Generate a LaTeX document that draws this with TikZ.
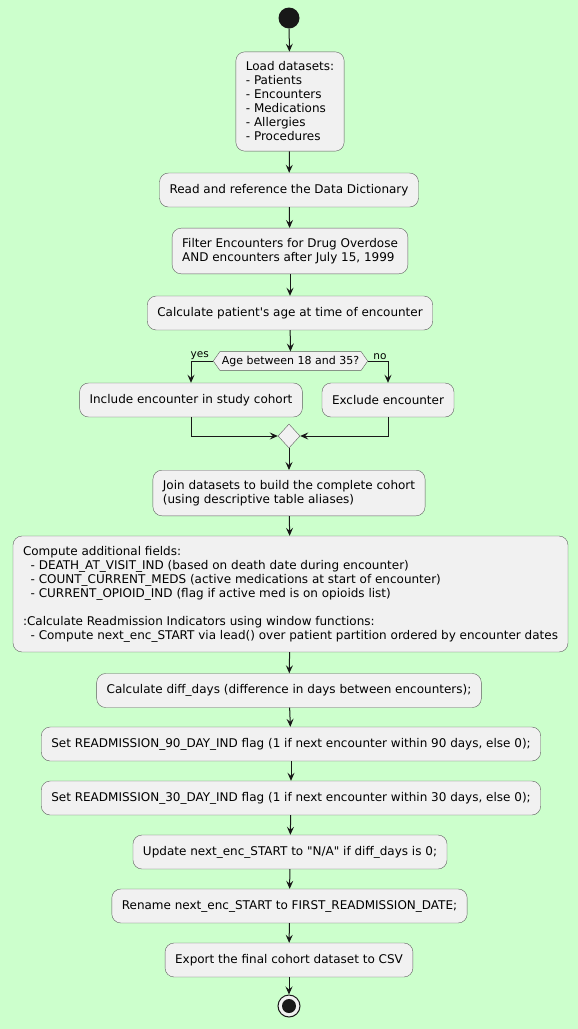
\documentclass[tikz,border=0pt]{standalone}
\usepackage{fontspec}
\newfontfamily\umlfont{DejaVu Sans}
\usetikzlibrary{arrows.meta,shapes.geometric,shapes.symbols}
\definecolor{umlbg}{RGB}{204,255,204}
\definecolor{boxfill}{RGB}{241,241,241}
\definecolor{boxline}{RGB}{94,94,94}
\definecolor{ink}{RGB}{24,24,24}

\begin{document}
\begin{tikzpicture}[x=1pt,y=-1pt,font=\umlfont\fontsize{12}{14}\selectfont,
  act/.style={draw=boxline, fill=boxfill, rounded corners=9pt, align=left,
    inner xsep=10pt, inner ysep=10pt, minimum height=34pt},
  decision/.style={draw=boxline, fill=boxfill, signal, signal to=west and east,
    signal pointer angle=110, inner xsep=2pt, inner ysep=4pt, font=\umlfont\fontsize{11}{12}\selectfont},
  merge/.style={draw=boxline, fill=boxfill, diamond, minimum width=22pt, minimum height=24pt, inner sep=0pt},
  flow/.style={draw=ink, line width=1pt, -{Stealth[length=8pt,width=7pt,inset=3pt]}},
  lbl/.style={font=\umlfont\fontsize{10.5}{12}\selectfont, inner sep=1pt}]

\fill[umlbg] (0,0) rectangle (578,1029);

% start
\node[circle, fill=ink, minimum size=21pt, inner sep=0pt] (start) at (289,18) {};

\node[act] (load) at (290,101.5) {Load datasets:\\- Patients\\- Encounters\\- Medications\\- Allergies\\- Procedures};
\node[act] (read) at (289,190) {Read and reference the Data Dictionary};
\node[act] (filter) at (290,251) {Filter Encounters for Drug Overdose\\AND encounters after July 15, 1999};
\node[act] (age) at (290,313) {Calculate patient\textquotesingle s age at time of encounter};

\node[decision] (dec) at (290.5,361) {Age between 18 and 35?};
\node[act] (incl) at (191,400) {Include encounter in study cohort};
\node[act] (excl) at (388,400) {Exclude encounter};
\node[merge] (merge) at (289,436) {};

\node[act] (join) at (289,493) {Join datasets to build the complete cohort\\(using descriptive table aliases)};
\node[act] (comp) at (290.5,594) {Compute additional fields:\\
  \ \ - DEATH\_AT\_VISIT\_IND (based on death date during encounter)\\
  \ \ - COUNT\_CURRENT\_MEDS (active medications at start of encounter)\\
  \ \ - CURRENT\_OPIOID\_IND (flag if active med is on opioids list)\\
  \mbox{}\\
  :Calculate Readmission Indicators using window functions:\\
  \ \ - Compute next\_enc\_START via lead() over patient partition ordered by encounter dates};
\node[act] (diff) at (289,690.5) {Calculate diff\_days (difference in days between encounters);};
\node[act] (ninety) at (291,744) {Set READMISSION\_90\_DAY\_IND flag (1 if next encounter within 90 days, else 0);};
\node[act] (thirty) at (291,798) {Set READMISSION\_30\_DAY\_IND flag (1 if next encounter within 30 days, else 0);};
\node[act] (upd) at (290,852) {Update next\_enc\_START to "N/A" if diff\_days is 0;};
\node[act] (ren) at (289.5,906) {Rename next\_enc\_START to FIRST\_READMISSION\_DATE;};
\node[act] (exp) at (289,960) {Export the final cohort dataset to CSV};

% stop
\node[circle, draw=ink, fill=boxfill, line width=1pt, minimum size=22pt, inner sep=0pt] (stop) at (289,1006) {};
\fill[ink] (stop) circle (7);

\draw[flow] (start) -- (load);
\draw[flow] (load) -- (read);
\draw[flow] (read) -- (filter);
\draw[flow] (filter) -- (age);
\draw[flow] (age) -- (dec);

\draw[flow] (dec.west) -| (incl.north) node[lbl, pos=0.3, above] {yes};
\draw[flow] (dec.east) -| (excl.north) node[lbl, pos=0.3, above] {no};
\draw[flow] (incl.south) |- (merge.west);
\draw[flow] (excl.south) |- (merge.east);

\draw[flow] (merge) -- (join);
\draw[flow] (join) -- (comp);
\draw[flow] (comp) -- (diff);
\draw[flow] (diff) -- (ninety);
\draw[flow] (ninety) -- (thirty);
\draw[flow] (thirty) -- (upd);
\draw[flow] (upd) -- (ren);
\draw[flow] (ren) -- (exp);
\draw[flow] (exp) -- (stop);

\end{tikzpicture}
\end{document}
